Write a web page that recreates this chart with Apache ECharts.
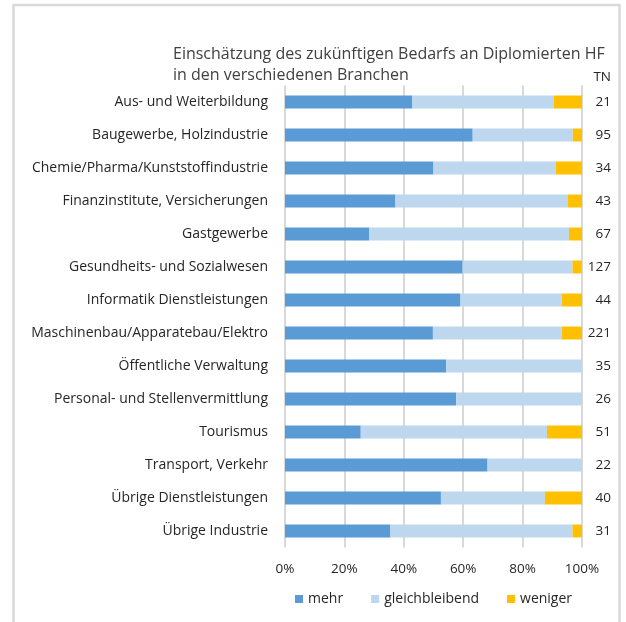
<!DOCTYPE html>
<html>
<head>
<meta charset="utf-8">
<script src="https://cdn.jsdelivr.net/npm/echarts@6/dist/echarts.min.js"></script>
<style>html,body{margin:0;padding:0;background:#fff}#c{width:626px;height:622px}</style>
</head>
<body>
<div id="c"></div>
<script>
const categories = ["Aus- und Weiterbildung","Baugewerbe, Holzindustrie","Chemie/Pharma/Kunststoffindustrie","Finanzinstitute, Versicherungen","Gastgewerbe","Gesundheits- und Sozialwesen","Informatik Dienstleistungen","Maschinenbau/Apparatebau/Elektro","Öffentliche Verwaltung","Personal- und Stellenvermittlung","Tourismus","Transport, Verkehr","Übrige Dienstleistungen","Übrige Industrie"];
const mehr =           [42.9, 63.2, 50.0, 37.2, 28.4, 59.8, 59.1, 49.8, 54.3, 57.7, 25.5, 68.2, 52.5, 35.5];
const gleichbleibend = [47.6, 33.7, 41.2, 58.1, 67.2, 37.0, 34.1, 43.4, 45.7, 42.3, 62.7, 31.8, 35.0, 61.3];
const weniger =        [ 9.5,  3.2,  8.8,  4.7,  4.5,  3.1,  6.8,  6.8,  0.0,  0.0, 11.8,  0.0, 12.5,  3.2];
const tn = ["21","95","34","43","67","127","44","221","35","26","51","22","40","31"];
const xTicks = [0, 20, 40, 60, 80, 100];

const FONT = "Open Sans";
const chart = echarts.init(document.getElementById('c'), null, {renderer:'canvas'});
chart.setOption({
  animation: false,
  textStyle: {fontFamily: FONT},
  title: {
    text: "Einschätzung des zukünftigen Bedarfs an Diplomierten HF\nin den verschiedenen Branchen",
    left: 168, top: 39,
    textStyle: {fontFamily: FONT, fontSize: 16, fontWeight: 'normal', color: '#404040', lineHeight: 21}
  },
  graphic: [
    {type:'rect', shape:{x:13.5, y:5, width:606, height:640}, style:{fill:'none', stroke:'#d9d9d9', lineWidth:2.5}, silent:true},
    {type:'text', right: 15, top: 70, style:{text:'TN', fontFamily: FONT, fontSize: 13.5, fill:'#262626'}}
  ],
  legend: {
    left: 290, top: 587,
    itemWidth: 8, itemHeight: 8, itemGap: 28,
    icon: 'rect',
    textStyle: {fontFamily: FONT, fontSize: 14, color: '#262626'},
    data: ['mehr','gleichbleibend','weniger']
  },
  grid: {left: 285, right: 44, top: 85.5, bottom: 74.5, containLabel: false},
  xAxis: {
    type: 'value', min: xTicks[0], max: xTicks[xTicks.length-1], interval: 20,
    axisLine: {show: false}, axisTick: {show: false},
    splitLine: {show: true, lineStyle: {color: '#d9d9d9', width: 2}},
    axisLabel: {margin: 15, fontFamily: FONT, fontSize: 13.5, color: '#262626', formatter: v => v + '%'}
  },
  yAxis: [
    {
      type: 'category', inverse: true, data: categories,
      axisLine: {show: false}, axisTick: {show: false},
      axisLabel: {margin: 17, fontFamily: FONT, fontSize: 14, color: '#262626'}
    },
    {
      type: 'category', inverse: true, data: tn, position: 'right',
      axisLine: {show: false}, axisTick: {show: false},
      axisLabel: {margin: 29, align: 'right', fontFamily: FONT, fontSize: 13.5, color: '#262626'}
    }
  ],
  series: [
    {name:'mehr', type:'bar', stack:'s', data: mehr, barWidth: 13, itemStyle:{color:'#5B9BD5'}},
    {name:'gleichbleibend', type:'bar', stack:'s', data: gleichbleibend, barWidth: 13, itemStyle:{color:'#BDD7EE'}},
    {name:'weniger', type:'bar', stack:'s', data: weniger, barWidth: 13, itemStyle:{color:'#FFC000'}}
  ]
});
</script>
</body>
</html>
